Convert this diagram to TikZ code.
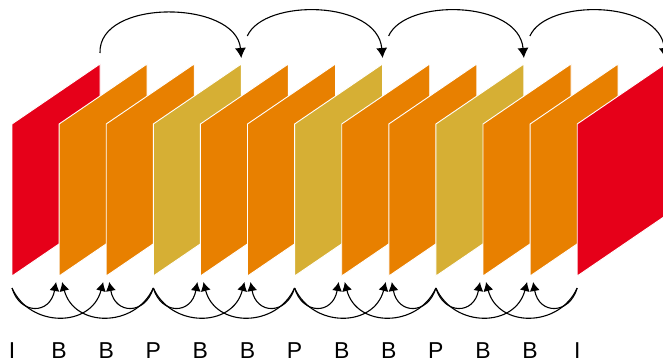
\documentclass[tikz,border=0pt]{standalone}
\usepackage{fontspec}
\setmainfont{Liberation Sans}
\usetikzlibrary{arrows.meta,calc}
\definecolor{framered}{HTML}{E60019}
\definecolor{frameorange}{HTML}{E88000}
\definecolor{framegold}{HTML}{D6AF34}
\tikzset{
  fr/.style={fill=#1, draw=white, line width=0.9pt, line join=miter},
  refarrow/.style={draw=black, line width=1.1pt, -{Latex[length=10pt,width=11pt]}},
  bref/.style={draw=black, line width=1.1pt, -{Latex[length=9pt,width=10pt]}},
  lbl/.style={font=\fontsize{23}{23}\selectfont, inner sep=0pt, anchor=base},
}
\begin{document}
\begin{tikzpicture}[x=1pt,y=-1pt]
\useasboundingbox (0,0) rectangle (663,363);
\clip (0,0) rectangle (663,363);
\foreach \k/\t/\c in {0/I/framered,1/B/frameorange,2/B/frameorange,3/P/framegold,4/B/frameorange,5/B/frameorange,6/P/framegold,7/B/frameorange,8/B/frameorange,9/P/framegold,10/B/frameorange,11/B/frameorange,12/I/framered} {
  \pgfmathsetmacro{\L}{12+47.1*\k}
  \path[fr=\c] (\L,124) -- ++(88,-60) -- ++(0,152) -- ++(-88,60) -- cycle;
  \node[lbl] (l\k) at (\L,358) {\t};
  \coordinate (a\k) at (\L,288);
  \coordinate (bl\k) at (\L-3,282);
  \coordinate (br\k) at (\L+3,282);
  \coordinate (te\k) at (\L+88,58);
  \coordinate (ts\k) at (\L+94,36);
}
\coordinate (ts0) at (100,53);
% top references (I/P -> P/I)
\draw[refarrow] (ts0) .. controls ($(ts0)+(-2,-55)$) and ($(te3)+(-5,-58)$) .. (te3);
\foreach \a/\d in {3/6,6/9,9/12} {
  \draw[refarrow] (ts\a) .. controls ($(ts\a)+(17,-38)$) and ($(te\d)+(-5,-58)$) .. (te\d);
}
% bottom references (anchors -> B frames)
\foreach \a/\b/\c/\d in {0/1/2/3,3/4/5/6,6/7/8/9,9/10/11/12} {
  \draw[bref] (a\a) .. controls ($(a\a)+(8,27)$) and ($(bl\b)+(-6,33)$) .. (bl\b);
  \draw[bref] (a\a) .. controls ($(a\a)+(18,40)$) and ($(bl\c)+(-12,46)$) .. (bl\c);
  \draw[bref] (a\d) .. controls ($(a\d)+(-18,40)$) and ($(br\b)+(12,46)$) .. (br\b);
  \draw[bref] (a\d) .. controls ($(a\d)+(-8,27)$) and ($(br\c)+(6,33)$) .. (br\c);
}
\end{tikzpicture}
\end{document}
